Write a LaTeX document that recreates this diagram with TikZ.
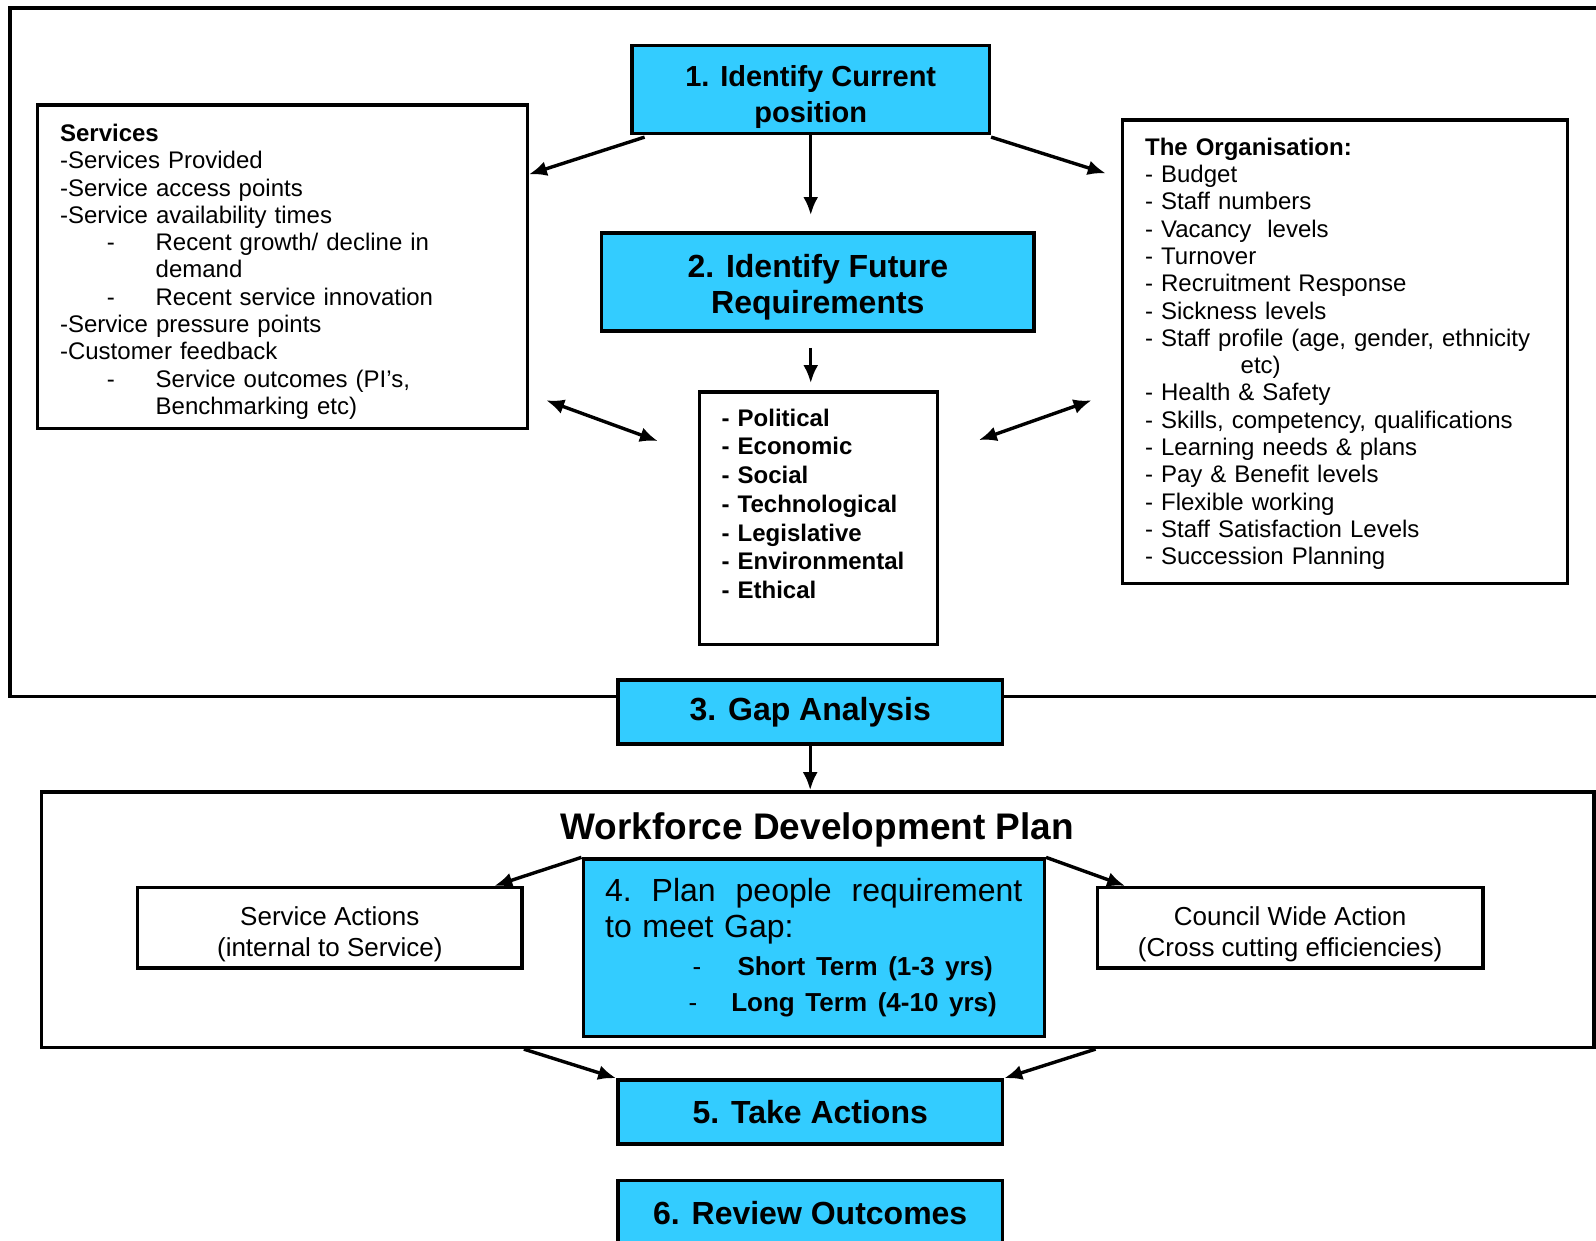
\documentclass[tikz,border=0pt]{standalone}
\usepackage{fontspec}
\setmainfont{Liberation Sans}
\usepackage{tikz}
\usetikzlibrary{positioning, arrows.meta, calc}
\definecolor{stepblue}{HTML}{33CCFF}
\newcommand{\dashitem}[1]{\makebox[47.8pt][l]{\hspace*{23.4pt}-}#1}

\begin{document}
\begin{tikzpicture}[
		x=0.509pt, y=-0.509pt,
		% --- STYLES ---
		stepbox/.style={
			rectangle, draw, line width=1.7pt, fill=stepblue,
			minimum width=192.4pt, minimum height=32.1pt, align=center,
			font=\fontsize{16}{18.3}\selectfont\bfseries
		},
		listbox/.style={
			rectangle, draw, line width=1.7pt, fill=white, inner ysep=1pt,
			align=left, inner xsep=11.2pt, font=\fontsize{12}{13.64}\selectfont
		},
		actionbox/.style={
			rectangle, draw, line width=1.7pt, fill=white, inner ysep=0pt,
			minimum width=192.4pt, minimum height=40.2pt, align=center,
			font=\fontsize{13}{15.3}\selectfont
		},
		outerframe/.style={
			draw, line width=1.7pt
		},
		line/.style={
			draw, line width=1.7pt, -{Latex[length=9pt, width=7.5pt]}
		},
		dline/.style={
			draw, line width=1.7pt, {Latex[length=9pt, width=7.5pt]}-{Latex[length=9pt, width=7.5pt]}
		}
	]
	\useasboundingbox (0,0) rectangle (1568,1219);
	
	% ==========================================
	% 1. Current position and future requirements
	% ==========================================
	\draw [outerframe] (10,8) rectangle (1640,684);
	
	\node [stepbox, minimum width=178.7pt, minimum height=43.8pt, inner ysep=0pt, font=\fontsize{14.5}{17.8}\selectfont\bfseries] (step1) at (796.5,88) {\rule{0pt}{18.2pt}1. Identify Current\\position};
	\node [stepbox, minimum width=216.3pt, minimum height=48.9pt] (step2) at (803.5,277) {\rule{0pt}{16.7pt}2. Identify Future\\Requirements};
	
	\node [listbox, text width=222.4pt, minimum height=161.9pt] (services) at (277.5,262) {
		\rule{0pt}{13.8pt}\textbf{Services}\\
		-Services Provided\\
		-Service access points\\
		-Service availability times\\
		\dashitem{Recent growth/ decline in}\\
		\hspace*{47.8pt}demand\\
		\dashitem{Recent service innovation}\\
		-Service pressure points\\
		-Customer feedback\\
		\dashitem{Service outcomes (PI’s,}\\
		\hspace*{47.8pt}Benchmarking etc)
	};
	
	\node [listbox, text width=200pt, minimum height=231.6pt] (organisation) at (1321.5,345.5) {
		\rule{0pt}{10.8pt}\textbf{The Organisation:}\\
		- Budget\\
		- Staff numbers\\
		- Vacancy\ \ levels\\
		- Turnover\\
		- Recruitment Response\\
		- Sickness levels\\
		- Staff profile (age, gender, ethnicity\\
		\hspace*{47.8pt}etc)\\
		- Health \& Safety\\
		- Skills, competency, qualifications\\
		- Learning needs \& plans\\
		- Pay \& Benefit levels\\
		- Flexible working\\
		- Staff Satisfaction Levels\\
		- Succession Planning
	};
	
	\node [listbox, text width=96.7pt, minimum height=126.2pt, font=\fontsize{12}{14.4}\selectfont\bfseries] (pest_box) at (804,509) {
		- Political\\
		- Economic\\
		- Social\\
		- Technological\\
		- Legislative\\
		- Environmental\\
		- Ethical\\ \mbox{}
	};
	
	\draw [line] ($(step1.south west)+(14,2)$) -- ($(services.north east)+(0,70)$);
	\draw [line] ($(step1.south east)+(0,2)$) -- ($(organisation.north west)+(-15,54)$);
	\draw [line] (step1.south) -- ($(step2.north -| step1.south)+(0,-16)$);
	\draw [line] ($(step2.south -| step1.south)+(0,15)$) -- ($(pest_box.north -| step1.south)+(0,-7)$);
	\draw [dline] ($(services.north east)+(17,292)$) -- ($(pest_box.north west)+(-39,50)$);
	\draw [dline] ($(pest_box.north east)+(39,49)$) -- ($(organisation.north west)+(-29,277)$);
	
	% ==========================================
	% 2. Gap analysis
	% ==========================================
	\node [stepbox] (step3) at (796,699.5) {3. Gap Analysis};
	
	% ==========================================
	% 3. Workforce development plan
	% ==========================================
	\node [outerframe, minimum width=776.2pt, minimum height=127.8pt] (wdp) at (803.5,903.5) {};
	\node [font=\fontsize{18.5}{22}\selectfont\bfseries] (wdp_title) at (803,815) {Workforce Development Plan};
	\draw [line] (step3.south) -- (step3.south |- wdp.north);
	
	\node [stepbox, minimum width=230.6pt, minimum height=88.6pt, text width=208.7pt, inner xsep=10.95pt, align=left, font=\fontsize{16}{17.8}\selectfont] (step4) at (799.5,931) {
		4.\hfill Plan\hfill people\hfill requirement\\
		to meet Gap:\\[1.5pt]
		{\fontsize{13}{17.8}\selectfont\makebox[66.2pt][l]{\hspace*{43.8pt}-}\textbf{Short Term (1-3 yrs)}}\\
		{\fontsize{13}{17.8}\selectfont\makebox[63.1pt][l]{\hspace*{41.7pt}-}\textbf{Long Term (4-10 yrs)}}
	};
	
	\node [actionbox] (service_actions) at (324,911.5) {\rule{0pt}{16pt}Service Actions\\(internal to Service)};
	\node [actionbox, minimum width=192.9pt] (council_actions) at (1267.5,911.5) {\rule{0pt}{16pt}Council Wide Action\\(Cross cutting efficiencies)};
	
	\draw [line] (step4.north west) -- ($(service_actions.north east)+(-29,0)$);
	\draw [line] (step4.north east) -- ($(council_actions.north west)+(29,0)$);
	
	% ==========================================
	% 4. Actions and review
	% ==========================================
	\node [stepbox] (step5) at (796,1092.5) {5. Take Actions};
	\node [stepbox, below=16.5pt of step5] (step6) {6. Review Outcomes};
	
	\draw [line] (service_actions.east |- wdp.south) -- (step5.north west);
	\draw [line] (council_actions.west |- wdp.south) -- (step5.north east);
\end{tikzpicture}
\end{document}
